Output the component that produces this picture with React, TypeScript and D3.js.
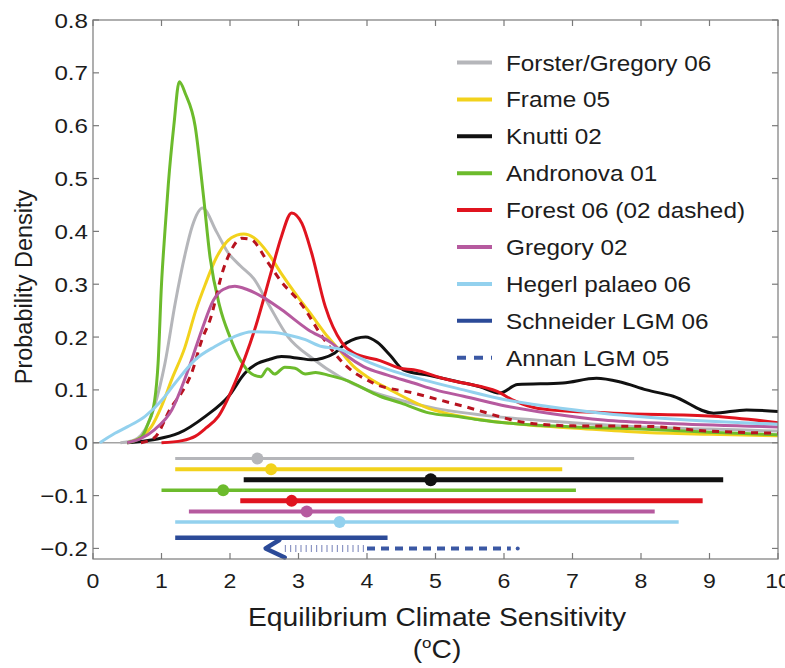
import React, { useEffect, useRef } from 'react'
import * as d3 from 'd3'

const WIDTH = 785
const HEIGHT = 668

// probability density curves (x = climate sensitivity in degC)
const forsterX = [0.4, 0.6, 0.8, 0.9, 1.05, 1.2, 1.35, 1.45, 1.6, 1.8, 1.97, 2.15, 2.35, 2.55, 2.85, 3.2, 3.6, 4.0, 4.5, 5, 6, 7, 8, 9, 10]
const forsterY = [0, 0.005, 0.035, 0.07, 0.15, 0.264, 0.36, 0.41, 0.444, 0.4, 0.36, 0.335, 0.31, 0.265, 0.2, 0.16, 0.125, 0.1, 0.08, 0.065, 0.048, 0.038, 0.03, 0.026, 0.022]

const frameX = [0.5, 0.7, 0.85, 1.0, 1.15, 1.34, 1.5, 1.64, 1.8, 1.95, 2.1, 2.2, 2.35, 2.56, 2.75, 2.95, 3.2, 3.43, 3.6, 3.8, 4.0, 4.34, 4.9, 5.6, 6.4, 7, 8, 9, 10]
const frameY = [0, 0.01, 0.03, 0.069, 0.12, 0.18, 0.25, 0.3, 0.35, 0.38, 0.393, 0.395, 0.388, 0.358, 0.32, 0.283, 0.24, 0.2, 0.175, 0.145, 0.125, 0.1, 0.065, 0.045, 0.033, 0.028, 0.02, 0.016, 0.013]

const knuttiX = [0.5, 0.9, 1.25, 1.64, 1.98, 2.22, 2.4, 2.56, 2.75, 3.0, 3.19, 3.35, 3.53, 3.7, 3.98, 4.15, 4.34, 4.53, 4.92, 5.31, 5.65, 5.94, 6.2, 6.86, 7.35, 7.7, 8.08, 8.47, 9.06, 9.54, 10]
const knuttiY = [0, 0.006, 0.018, 0.05, 0.088, 0.132, 0.15, 0.157, 0.163, 0.16, 0.157, 0.16, 0.17, 0.189, 0.2, 0.19, 0.165, 0.138, 0.127, 0.116, 0.106, 0.094, 0.11, 0.113, 0.122, 0.115, 0.1, 0.088, 0.056, 0.062, 0.059]

const andronovaX = [0.5, 0.7, 0.8, 0.9, 0.95, 1.0, 1.05, 1.1, 1.18, 1.26, 1.35, 1.49, 1.61, 1.71, 1.85, 2.0, 2.15, 2.32, 2.45, 2.55, 2.65, 2.8, 2.95, 3.1, 3.25, 3.43, 3.68, 4.19, 4.5, 4.92, 5.3, 5.65, 6.38, 7, 8, 9, 10]
const andronovaY = [0, 0.01, 0.035, 0.08, 0.15, 0.3, 0.4, 0.49, 0.6, 0.683, 0.66, 0.6, 0.47, 0.35, 0.258, 0.2, 0.157, 0.13, 0.125, 0.14, 0.13, 0.143, 0.141, 0.13, 0.133, 0.128, 0.119, 0.088, 0.075, 0.056, 0.05, 0.043, 0.034, 0.03, 0.026, 0.02, 0.015]

const forest06X = [1.0, 1.3, 1.49, 1.65, 1.83, 2.07, 2.36, 2.61, 2.75, 2.9, 3.05, 3.19, 3.39, 3.63, 3.8, 4.2, 4.48, 4.68, 5.16, 5.41, 5.9, 6.14, 6.5, 7.6, 9.06, 10]
const forest06Y = [0, 0.004, 0.012, 0.028, 0.05, 0.113, 0.214, 0.327, 0.39, 0.435, 0.415, 0.36, 0.258, 0.19, 0.17, 0.155, 0.141, 0.138, 0.12, 0.113, 0.097, 0.08, 0.065, 0.056, 0.05, 0.038]

const forest02X = [0.7, 0.9, 1.15, 1.29, 1.44, 1.59, 1.71, 1.9, 2.02, 2.17, 2.3, 2.56, 2.73, 3.05, 3.35, 3.65, 4.09, 4.68, 5.41, 6.38, 7, 8.08, 9, 10]
const forest02Y = [0, 0.01, 0.069, 0.094, 0.132, 0.195, 0.233, 0.327, 0.365, 0.387, 0.385, 0.34, 0.308, 0.261, 0.2, 0.151, 0.113, 0.094, 0.069, 0.037, 0.032, 0.031, 0.022, 0.018]

const gregoryX = [0.5, 0.7, 0.9, 1.15, 1.39, 1.59, 1.76, 1.9, 2.07, 2.25, 2.46, 2.75, 3.14, 3.48, 3.7, 3.95, 4.3, 4.68, 5.0, 5.41, 6.04, 6.7, 7.45, 8.5, 10]
const gregoryY = [0, 0.008, 0.025, 0.062, 0.138, 0.214, 0.27, 0.29, 0.296, 0.29, 0.277, 0.252, 0.214, 0.189, 0.165, 0.144, 0.128, 0.113, 0.1, 0.088, 0.069, 0.055, 0.043, 0.036, 0.03]

const hegerlX = [0.1, 0.32, 0.5, 0.76, 1.0, 1.2, 1.49, 1.78, 2.05, 2.32, 2.6, 2.85, 3.1, 3.34, 3.58, 3.9, 4.19, 4.8, 5.41, 6.0, 6.62, 7.5, 8.57, 10]
const hegerlY = [0, 0.018, 0.03, 0.05, 0.08, 0.113, 0.157, 0.182, 0.2, 0.21, 0.209, 0.204, 0.195, 0.182, 0.178, 0.16, 0.144, 0.12, 0.1, 0.082, 0.069, 0.055, 0.044, 0.035]

// 5-95% ranges and best estimates shown below zero
const rangeNames = ['Forster/Gregory 06', 'Frame 05', 'Knutti 02', 'Andronova 01', 'Forest 06 (02 dashed)', 'Gregory 02', 'Hegerl palaeo 06', 'Schneider LGM 06']
const rangeLevel = [-0.03, -0.05, -0.07, -0.09, -0.11, -0.13, -0.15, -0.18]
const rangeLow = [1.2, 1.2, 2.2, 1.0, 2.15, 1.4, 1.2, 1.2]
const rangeHigh = [7.9, 6.85, 9.2, 7.05, 8.9, 8.2, 8.55, 4.3]
const rangeBest = [2.4, 2.6, 4.93, 1.9, 2.9, 3.12, 3.6, NaN]
const rangeWidth = [3, 4, 5, 3.5, 5, 4, 3.5, 4.5]

// Annan LGM 05: arrow (lower bound), dotted then dashed upper part
const annanLevel = -0.2
const annanArrowTip = 2.52
const annanArrowArms = [2.72, 2.8]
const annanDotted = [2.8, 4.0]
const annanDashed = [4.0, 6.1]
const annanEnd = 6.2

const legendNames = ['Forster/Gregory 06', 'Frame 05', 'Knutti 02', 'Andronova 01', 'Forest 06 (02 dashed)', 'Gregory 02', 'Hegerl palaeo 06', 'Schneider LGM 06', 'Annan LGM 05']
const legendColors = ['#b5b6ba', '#f2d21c', '#111111', '#6cbb2c', '#e0141f', '#b65a9f', '#93d1ee', '#2b4a98', '#3b58a4']

const xTicks = [0, 1, 2, 3, 4, 5, 6, 7, 8, 9, 10]
const yTicks = [-0.2, -0.1, 0, 0.1, 0.2, 0.3, 0.4, 0.5, 0.6, 0.7, 0.8]
const yTickLabels = ['\u22120.2', '\u22120.1', '0', '0.1', '0.2', '0.3', '0.4', '0.5', '0.6', '0.7', '0.8']

const FONT = '"Liberation Sans", Arial, Helvetica, sans-serif'
const INK = '#1c1c1c'

function addText(g: any, str: string, tx: number, ty: number, size: number, anchor: string, sx = 1.1) {
    return g.append('text')
        .attr('transform', `translate(${tx},${ty}) scale(${sx},1)`)
        .attr('text-anchor', anchor)
        .attr('font-family', FONT)
        .attr('font-size', size)
        .attr('fill', INK)
        .text(str)
}

function drawChart(svg: any) {
    const x = d3.scaleLinear().domain([0, 10]).range([93, 778])
    const y = d3.scaleLinear().domain([-0.22, 0.8]).range([559, 20])
    const [x0, x1] = x.range()
    const [yb, yt] = y.range()

    svg.append('rect').attr('width', WIDTH).attr('height', HEIGHT).attr('fill', '#fff')

    // zero line
    svg.append('line')
        .attr('x1', x0).attr('x2', x1)
        .attr('y1', y(0)).attr('y2', y(0))
        .attr('stroke', '#a3a3a3').attr('stroke-width', 1.3)

    const line = d3.line<[number, number]>()
        .x(d => x(d[0]))
        .y(d => y(d[1]))
        .curve(d3.curveMonotoneX)

    const curves = [
        { xs: forsterX, ys: forsterY, color: legendColors[0], dash: null },
        { xs: frameX, ys: frameY, color: legendColors[1], dash: null },
        { xs: knuttiX, ys: knuttiY, color: legendColors[2], dash: null },
        { xs: andronovaX, ys: andronovaY, color: legendColors[3], dash: null },
        { xs: forest06X, ys: forest06Y, color: legendColors[4], dash: null },
        { xs: forest02X, ys: forest02Y, color: '#b8131f', dash: '7,6' },
        { xs: gregoryX, ys: gregoryY, color: legendColors[5], dash: null },
        { xs: hegerlX, ys: hegerlY, color: legendColors[6], dash: null },
    ]

    const plot = svg.append('g')
    curves.forEach(c => {
        const pts = c.xs.map((v, i) => [v, c.ys[i]] as [number, number])
        plot.append('path')
            .attr('d', line(pts))
            .attr('fill', 'none')
            .attr('stroke', c.color)
            .attr('stroke-width', 3)
            .attr('stroke-linejoin', 'round')
            .attr('stroke-dasharray', c.dash)
    })

    // ranges
    const ranges = plot.append('g')
    rangeNames.forEach((name, i) => {
        ranges.append('line')
            .attr('x1', x(rangeLow[i])).attr('x2', x(rangeHigh[i]))
            .attr('y1', y(rangeLevel[i])).attr('y2', y(rangeLevel[i]))
            .attr('stroke', legendColors[i])
            .attr('stroke-width', rangeWidth[i])
        if (!isNaN(rangeBest[i])) {
            ranges.append('circle')
                .attr('cx', x(rangeBest[i])).attr('cy', y(rangeLevel[i]))
                .attr('r', i === 2 ? 6.5 : 6)
                .attr('fill', legendColors[i])
        }
    })

    const annanColor = legendColors[8]
    ranges.append('line')
        .attr('x1', x(annanDotted[0])).attr('x2', x(annanDotted[1]))
        .attr('y1', y(annanLevel)).attr('y2', y(annanLevel))
        .attr('stroke', '#8d96c4').attr('stroke-width', 7)
        .attr('stroke-dasharray', '1.2,4')
    ranges.append('line')
        .attr('x1', x(annanDashed[0])).attr('x2', x(annanDashed[1]))
        .attr('y1', y(annanLevel)).attr('y2', y(annanLevel))
        .attr('stroke', annanColor).attr('stroke-width', 4)
        .attr('stroke-dasharray', '8,6')
    ranges.append('circle')
        .attr('cx', x(annanEnd)).attr('cy', y(annanLevel))
        .attr('r', 2).attr('fill', annanColor)
    ranges.append('path')
        .attr('d', d3.line()([
            [x(annanArrowArms[0]), y(annanLevel + 0.016)],
            [x(annanArrowTip), y(annanLevel)],
            [x(annanArrowArms[1]), y(annanLevel - 0.017)],
        ]))
        .attr('fill', 'none')
        .attr('stroke', '#2b4a98')
        .attr('stroke-width', 4.5)
        .attr('stroke-linejoin', 'round')
        .attr('stroke-linecap', 'round')

    // frame and ticks
    const axis = svg.append('g').attr('stroke', '#7a7a7a').attr('stroke-width', 1.2)
    axis.append('rect')
        .attr('x', x0).attr('y', yt)
        .attr('width', x1 - x0).attr('height', yb - yt)
        .attr('fill', 'none')
    xTicks.forEach(t => {
        axis.append('line').attr('x1', x(t)).attr('x2', x(t)).attr('y1', yb).attr('y2', yb - 6)
        axis.append('line').attr('x1', x(t)).attr('x2', x(t)).attr('y1', yt).attr('y2', yt + 6)
    })
    yTicks.forEach(t => {
        axis.append('line').attr('x1', x0).attr('x2', x0 + 6).attr('y1', y(t)).attr('y2', y(t))
        axis.append('line').attr('x1', x1).attr('x2', x1 - 6).attr('y1', y(t)).attr('y2', y(t))
    })

    const labels = svg.append('g')
    xTicks.forEach(t => addText(labels, String(t), x(t), 588, 21, 'middle'))
    yTicks.forEach((t, i) => addText(labels, yTickLabels[i], 88, y(t) + 7.5, 21, 'end', 1.15))

    // axis titles
    addText(labels, 'Equilibrium Climate Sensitivity', 437, 626, 25, 'middle', 1.13)
    const unit = labels.append('text')
        .attr('transform', 'translate(437,658) scale(1.13,1)')
        .attr('text-anchor', 'middle')
        .attr('font-family', FONT)
        .attr('font-size', 25)
        .attr('fill', INK)
    unit.append('tspan').text('(')
    unit.append('tspan').attr('font-size', 15).attr('dy', -10).text('o')
    unit.append('tspan').attr('dy', 10).text('C)')

    labels.append('text')
        .attr('transform', 'translate(32,287) rotate(-90)')
        .attr('text-anchor', 'middle')
        .attr('font-family', FONT)
        .attr('font-size', 23.5)
        .attr('fill', INK)
        .text('Probability Density')

    // legend
    const legend = svg.append('g')
    legendNames.forEach((name, i) => {
        const ly = 62.5 + i * 36.9
        legend.append('line')
            .attr('x1', 457).attr('x2', 492)
            .attr('y1', ly).attr('y2', ly)
            .attr('stroke', legendColors[i])
            .attr('stroke-width', 4)
            .attr('stroke-dasharray', i === 8 ? '9,8' : null)
        addText(legend, name, 506, ly + 8, 22.5, 'start', 1.08)
    })
}

export default function App() {
    const ref = useRef<SVGSVGElement>(null)

    useEffect(() => {
        document.body.style.margin = '0'
        const svg = d3.select(ref.current)
        svg.selectAll('*').remove()
        drawChart(svg)
    }, [])

    return <svg ref={ref} width={WIDTH} height={HEIGHT} style={{ display: 'block' }} />
}
